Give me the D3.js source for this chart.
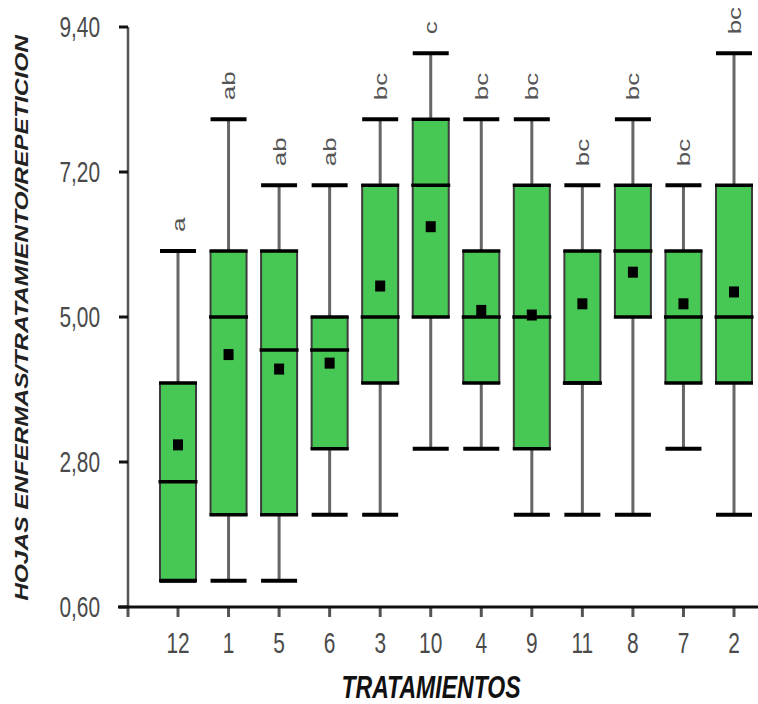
<!DOCTYPE html>
<html>
<head>
<meta charset="utf-8" />
<script src="https://cdn.jsdelivr.net/npm/d3@7"></script>
<style>
  body { margin: 0; background: #fff; }
  text { font-family: Arial, "Liberation Sans", sans-serif; }
</style>
</head>
<body>
<div id="chart"></div>
<script>
// treatment order along the x axis
const treatments = ["12", "1", "5", "6", "3", "10", "4", "9", "11", "8", "7", "2"];
// box plot statistics
const mins = [1, 1, 1, 2, 2, 3, 3, 2, 2, 2, 3, 2];
const q1s = [1, 2, 2, 3, 4, 5, 4, 3, 4, 5, 4, 4];
const medians = [2.5, 5, 4.5, 4.5, 5, 7, 5, 5, 4, 6, 5, 5];
const q3s = [4, 6, 6, 5, 7, 8, 6, 7, 6, 7, 6, 7];
const maxs = [6, 8, 7, 7, 8, 9, 8, 8, 7, 8, 7, 9];
const means = [3.06, 4.43, 4.21, 4.3, 5.47, 6.37, 5.1, 5.03, 5.2, 5.68, 5.2, 5.38];
const letters = ["a", "ab", "ab", "ab", "bc", "c", "bc", "bc", "bc", "bc", "bc", "bc"];
const yTicks = [0.6, 2.8, 5.0, 7.2, 9.4];

const width = 758,
  height = 704;

// the original image is squashed horizontally, so text gets scaled too
const sx = 0.72;

const svg = d3
  .select("#chart")
  .append("svg")
  .attr("width", width)
  .attr("height", height);

const data = treatments.map((t, i) => ({
  t: t,
  min: mins[i],
  q1: q1s[i],
  med: medians[i],
  q3: q3s[i],
  max: maxs[i],
  mean: means[i],
  letter: letters[i],
}));

const x = d3.scalePoint().domain(treatments).range([178, 734]);
const y = d3.scaleLinear().domain([0.6, 9.4]).range([607, 27]);
const axisX = 128;
const boxW = 36;

// Y axis line
svg
  .append("line")
  .attr("x1", axisX)
  .attr("x2", axisX)
  .attr("y1", y(9.4))
  .attr("y2", y(0.6))
  .attr("stroke", "#555")
  .attr("stroke-width", 2.5);

// Y ticks + labels
const yt = svg.append("g").selectAll("g").data(yTicks).join("g");
yt.append("line")
  .attr("x1", axisX - 9)
  .attr("x2", axisX)
  .attr("y1", (d) => y(d))
  .attr("y2", (d) => y(d))
  .attr("stroke", "#111")
  .attr("stroke-width", 3);
yt.append("text")
  .attr("transform", (d) => `translate(100,${y(d)}) scale(${sx},1)`)
  .attr("text-anchor", "end")
  .attr("dy", "0.35em")
  .style("font-size", "29px")
  .style("fill", "#4a4a4a")
  .text((d) => d3.format(".2f")(d).replace(".", ","));

// X ticks (one extra at the origin)
svg
  .append("g")
  .selectAll("line")
  .data([axisX].concat(treatments.map((t) => x(t))))
  .join("line")
  .attr("x1", (d) => d)
  .attr("x2", (d) => d)
  .attr("y1", 607)
  .attr("y2", 617)
  .attr("stroke", "#555")
  .attr("stroke-width", 3);

// X axis line
svg
  .append("line")
  .attr("x1", 118)
  .attr("x2", width)
  .attr("y1", 607)
  .attr("y2", 607)
  .attr("stroke", "#111")
  .attr("stroke-width", 3);

// X labels
svg
  .append("g")
  .selectAll("text")
  .data(treatments)
  .join("text")
  .attr("transform", (d) => `translate(${x(d)},653) scale(${sx},1)`)
  .attr("text-anchor", "middle")
  .style("font-size", "29px")
  .style("fill", "#4a4a4a")
  .text((d) => d);

// boxes
const g = svg
  .append("g")
  .selectAll("g")
  .data(data)
  .join("g")
  .attr("transform", (d) => `translate(${x(d.t)},0)`);

// whiskers
g.append("line")
  .attr("y1", (d) => y(d.max))
  .attr("y2", (d) => y(d.min))
  .attr("stroke", "#666")
  .attr("stroke-width", 3);

g.append("rect")
  .attr("x", -boxW / 2)
  .attr("width", boxW)
  .attr("y", (d) => y(d.q3))
  .attr("height", (d) => y(d.q1) - y(d.q3))
  .attr("fill", "#47c754")
  .attr("stroke", "#3c3c3c")
  .attr("stroke-width", 2);

// caps, box edges and median
const hl = (key, w, sw) =>
  g.append("line")
    .attr("x1", -w / 2)
    .attr("x2", w / 2)
    .attr("y1", (d) => y(d[key]))
    .attr("y2", (d) => y(d[key]))
    .attr("stroke", "#000")
    .attr("stroke-width", sw);
hl("min", boxW, 4);
hl("max", boxW, 4);
hl("q1", boxW + 2, 3.5);
hl("q3", boxW + 2, 3.5);
hl("med", boxW + 3, 3.5);

// mean marker
g.append("rect")
  .attr("x", -5)
  .attr("y", (d) => y(d.mean) - 5.5)
  .attr("width", 10)
  .attr("height", 11)
  .attr("fill", "#000");

// significance letters
g.append("text")
  .attr("transform", (d) => `translate(0,${y(d.max) - 19}) scale(${sx},1) rotate(-90)`)
  .attr("dy", "0.35em")
  .attr("text-anchor", "start")
  .style("font-size", "26px")
  .style("fill", "#555")
  .text((d) => d.letter);

// axis titles
svg
  .append("text")
  .attr("transform", `translate(431,698) scale(${sx},1)`)
  .attr("text-anchor", "middle")
  .style("font-size", "32px")
  .style("font-weight", "bold")
  .style("font-style", "italic")
  .style("fill", "#111")
  .text("TRATAMIENTOS");

svg
  .append("text")
  .attr("transform", `translate(22,318) scale(${sx},1) rotate(-90)`)
  .attr("text-anchor", "middle")
  .attr("dy", "0.35em")
  .style("font-size", "24.5px")
  .style("font-weight", "bold")
  .style("font-style", "italic")
  .style("fill", "#222")
  .text("HOJAS ENFERMAS/TRATAMIENTO/REPETICION");
</script>
</body>
</html>
